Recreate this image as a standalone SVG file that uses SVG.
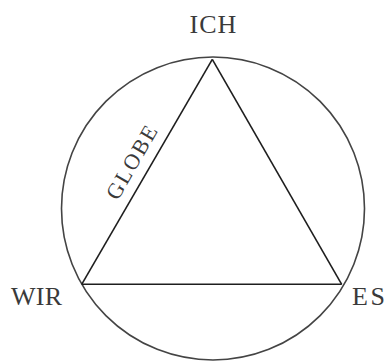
<svg xmlns="http://www.w3.org/2000/svg" width="392" height="362" viewBox="0 0 392 362">
<style>
.lbl{font-family:"Liberation Serif","DejaVu Serif",serif;fill:#3a3a3a;font-size:26px}
.edge{stroke:#1e1e1e;stroke-width:1.6;fill:none}
.ring{stroke:#444;stroke-width:1.6;fill:none}
</style>
<rect width="392" height="362" fill="#fff"/>
<g id="globe-circle"><circle class="ring" cx="213" cy="208.5" r="151.5"/></g>
<g id="connectors">
<line class="edge" x1="212.3" y1="59.3" x2="81.7" y2="284.3"/>
<line class="edge" x1="212.3" y1="59.3" x2="341.7" y2="284.3"/>
<line class="edge" x1="81.7" y1="284.3" x2="341.7" y2="284.3"/>
<text class="lbl" style="font-size:22px;letter-spacing:2px" transform="translate(138,166) rotate(-60)" text-anchor="middle" x="1" y="0">GLOBE</text>
</g>
<g id="ich"><text class="lbl" style="letter-spacing:1px" x="213.5" y="32.5" text-anchor="middle">ICH</text></g>
<g id="wir"><text class="lbl" style="letter-spacing:0.3px" x="11" y="305">WIR</text></g>
<g id="es"><text class="lbl" style="letter-spacing:2.5px" x="352" y="305">ES</text></g>
</svg>
